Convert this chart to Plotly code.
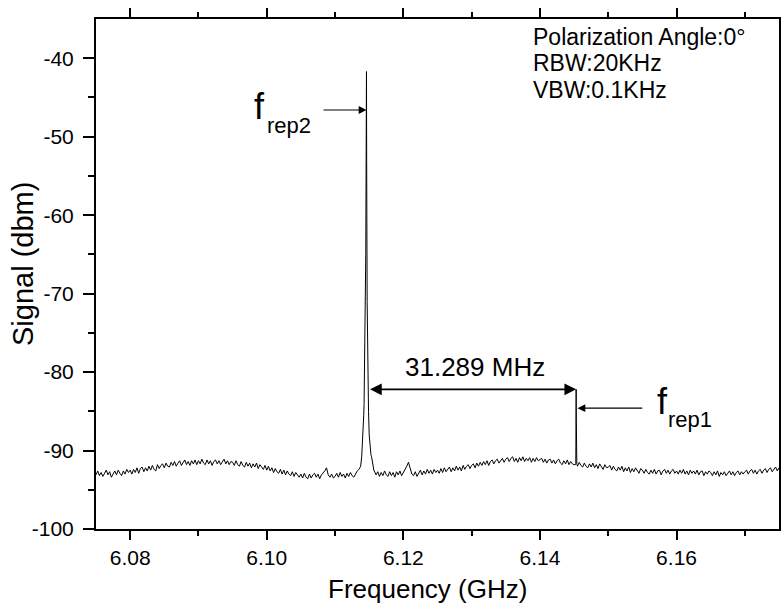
import plotly.graph_objects as go

# ---------------- data ----------------
freq_start = 6.075      # GHz, first sample of the sweep
freq_step = 0.00025     # GHz between samples

signal_dbm = [
    -93.1, -92.6, -93.2, -92.8, -93.3, -92.9, -92.5, -93.1, -92.7, -93.4, -92.9, -92.6, -93.1, -92.5, -92.9, -93.2, -92.6, -93.0, -92.4, -92.8,
    -92.5, -93.0, -92.4, -92.8, -92.2, -92.9, -92.3, -92.1, -92.7, -92.2, -92.6, -92.0, -92.5, -91.9, -92.4, -92.6, -91.8, -92.3, -91.9, -91.7,
    -92.2, -91.6, -92.0, -92.1, -91.5, -91.9, -91.4, -92.0, -91.6, -91.3, -91.9, -91.5, -91.2, -91.8, -91.4, -91.9, -91.3, -91.7, -91.2, -91.8,
    -91.3, -91.7, -91.1, -91.6, -91.8, -91.2, -91.7, -91.3, -91.9, -91.4, -91.2, -91.7, -91.3, -91.8, -91.4, -91.1, -91.7, -91.3, -91.8, -91.4,
    -91.5, -91.9, -91.3, -91.8, -92.0, -91.4, -91.9, -92.1, -91.5, -92.0, -91.6, -92.2, -91.7, -92.1, -91.6, -92.3, -91.8, -92.2, -92.4, -91.9,
    -92.5, -92.0, -92.6, -92.2, -92.8, -92.3, -92.7, -92.9, -92.4, -93.0, -92.5, -93.1, -92.6, -93.0, -93.2, -92.7, -93.3, -92.8, -93.1, -93.4,
    -93.0, -93.5, -92.9, -93.4, -93.6, -93.0, -93.5, -93.1, -92.9, -93.4, -93.0, -93.6, -93.1, -92.9, -92.6, -92.2, -93.1, -93.4, -93.0, -93.5,
    -93.3, -92.9, -93.4, -92.8, -93.3, -93.0, -93.5, -92.9, -93.3, -92.8, -93.2, -93.4, -92.9, -92.6, -92.4, -92.0, -89.5, -84.0, -65.0, -76.0,
    -88.0, -90.5, -91.9, -92.6, -93.1, -92.7, -93.3, -92.8, -93.2, -92.6, -93.1, -93.3, -92.7, -93.2, -92.8, -93.4, -92.7, -93.1, -92.6, -93.2,
    -92.8, -92.5, -92.0, -91.5, -92.2, -93.0, -93.2, -92.7, -93.3, -92.8, -92.5, -93.1, -92.6, -93.0, -92.4, -92.9, -92.5, -93.0, -92.4, -92.8,
    -92.5, -92.9, -92.3, -92.8, -92.2, -92.7, -92.4, -92.1, -92.7, -92.2, -92.6, -92.0, -92.5, -92.1, -92.6, -91.9, -92.4, -92.0, -91.8, -92.3,
    -91.9, -91.7, -92.2, -91.6, -92.0, -91.5, -91.9, -91.4, -91.8, -91.3, -91.9, -91.4, -91.2, -91.7, -91.3, -91.1, -91.6, -91.2, -91.0, -91.5,
    -91.1, -90.9, -91.4, -91.0, -90.8, -91.4, -91.0, -91.5, -90.9, -91.3, -90.8, -91.4, -91.0, -91.3, -90.9, -91.5, -91.0, -91.4, -90.9, -91.3,
    -91.2, -91.0, -91.5, -91.1, -91.6, -91.2, -91.1, -91.6, -91.2, -91.7, -91.3, -91.1, -91.6, -91.8, -91.3, -91.7, -91.2, -91.8, -91.4, -91.7,
    -91.8, -91.7, -92.0, -91.5, -91.9, -92.1, -91.6, -92.0, -92.2, -91.7, -92.1, -91.6, -92.2, -91.8, -92.3, -91.7, -92.1, -92.4, -91.8, -92.2,
    -92.1, -91.9, -92.5, -92.0, -92.4, -92.6, -92.1, -92.5, -92.0, -92.7, -92.2, -92.6, -92.1, -92.8, -92.3, -92.7, -92.2, -92.6, -92.9, -92.3,
    -92.5, -92.9, -92.4, -92.8, -93.0, -92.5, -92.9, -92.4, -93.0, -92.6, -92.5, -93.1, -92.6, -92.4, -92.9, -92.5, -93.0, -92.6, -92.4, -92.9,
    -92.6, -93.0, -92.5, -92.9, -92.4, -93.0, -92.6, -93.1, -92.5, -92.9, -92.6, -93.0, -92.5, -93.1, -92.7, -92.6, -93.2, -92.7, -93.0, -92.6,
    -92.8, -93.2, -92.7, -93.1, -92.6, -93.3, -92.8, -93.1, -92.7, -93.2, -92.8, -92.6, -93.1, -92.7, -93.2, -92.8, -92.6, -93.1, -92.7, -93.0,
    -92.7, -92.5, -93.0, -92.6, -92.4, -92.9, -92.5, -93.0, -92.6, -92.4, -92.9, -92.5, -92.3, -92.8, -92.4, -92.2, -92.7, -92.3, -92.1, -92.6,
    -92.2,
]

# finely sampled points of the strong line (f_rep2)
peak2_freq = [6.11375, 6.1139, 6.11405, 6.1142, 6.1143, 6.1144, 6.11452, 6.11457, 6.1146,
              6.11463, 6.1147, 6.1148, 6.1149, 6.1150, 6.1151, 6.1152, 6.11535, 6.1155, 6.1157]
peak2_dbm = [-92.0, -90.8, -88.8, -85.5, -81.0, -74.0, -60.0, -52.6, -41.7,
             -53.0, -71.0, -80.0, -85.0, -88.0, -89.6, -90.3, -90.8, -91.9, -92.6]

# finely sampled points of the weak line (f_rep1)
peak1_freq = [6.1452, 6.14528, 6.1453, 6.14532, 6.1454]
peak1_dbm = [-91.8, -85.0, -82.2, -86.0, -91.7]

x_ticks = [6.08, 6.10, 6.12, 6.14, 6.16]
y_ticks = [-100, -90, -80, -70, -60, -50, -40]

freq_rep2 = 6.1146
freq_rep1 = 6.1453
spacing_label = "31.289 MHz"
info_lines = ["Polarization Angle:0°", "RBW:20KHz", "VBW:0.1KHz"]
x_title = "Frequency (GHz)"
y_title = "Signal (dbm)"

# ---------------- build trace ----------------
base_freq = [round(freq_start + i * freq_step, 6) for i in range(len(signal_dbm))]
pts = list(zip(base_freq, signal_dbm)) + list(zip(peak2_freq, peak2_dbm)) + list(zip(peak1_freq, peak1_dbm))
pts.sort(key=lambda p: p[0])
xs = [p[0] for p in pts]
ys = [p[1] for p in pts]

FONT = "Arial, Liberation Sans, sans-serif"

fig = go.Figure()
fig.add_trace(go.Scatter(x=xs, y=ys, mode="lines",
                         line=dict(color="black", width=1), showlegend=False,
                         hoverinfo="skip"))

ann = []
# f_rep2 arrow
ann.append(dict(x=freq_rep2, y=-46.6, ax=6.1081, ay=-46.6, xref="x", yref="y",
                axref="x", ayref="y", text="", showarrow=True, arrowhead=2,
                arrowsize=1.3, arrowwidth=1.2, arrowcolor="black"))
# f_rep2 label
ann.append(dict(x=6.0979, y=-46.2, xref="x", yref="y", text="f", showarrow=False,
                xanchor="left", yanchor="middle", font=dict(family=FONT, size=36, color="black")))
ann.append(dict(x=6.0997, y=-48.6, xref="x", yref="y", text="rep2", showarrow=False,
                xanchor="left", yanchor="middle", font=dict(family=FONT, size=22, color="black")))
# spacing double arrow
ann.append(dict(x=freq_rep1, y=-82.2, ax=6.1149, ay=-82.2, xref="x", yref="y",
                axref="x", ayref="y", text="", showarrow=True, arrowhead=2, startarrowhead=2,
                arrowside="end+start", arrowsize=1.3, startarrowsize=1.3,
                arrowwidth=1.8, arrowcolor="black"))
ann.append(dict(x=6.1305, y=-79.3, xref="x", yref="y", text=spacing_label, showarrow=False,
                xanchor="center", yanchor="middle", font=dict(family=FONT, size=26, color="black")))
# f_rep1 arrow
ann.append(dict(x=6.1455, y=-84.6, ax=6.1552, ay=-84.6, xref="x", yref="y",
                axref="x", ayref="y", text="", showarrow=True, arrowhead=2,
                arrowsize=1.3, arrowwidth=1.2, arrowcolor="black"))
ann.append(dict(x=6.1569, y=-83.7, xref="x", yref="y", text="f", showarrow=False,
                xanchor="left", yanchor="middle", font=dict(family=FONT, size=36, color="black")))
ann.append(dict(x=6.1585, y=-86.0, xref="x", yref="y", text="rep1", showarrow=False,
                xanchor="left", yanchor="middle", font=dict(family=FONT, size=22, color="black")))
# info text
for yv, t in zip([-37.3, -40.65, -44.1], info_lines):
    ann.append(dict(x=6.1389, y=yv, xref="x", yref="y", text=t, showarrow=False,
                    xanchor="left", yanchor="middle", borderpad=0,
                    font=dict(family=FONT, size=23, color="black")))
# axis titles
ann.append(dict(x=0.486, y=-0.118, xref="paper", yref="paper", text=x_title, showarrow=False,
                xanchor="center", yanchor="middle", font=dict(family=FONT, size=26, color="black")))
ann.append(dict(x=-0.1066, y=0.52, xref="paper", yref="paper", text=y_title, showarrow=False,
                textangle=-90, xanchor="center", yanchor="middle",
                font=dict(family=FONT, size=29, color="black")))

fig.update_layout(
    width=783, height=604,
    margin=dict(l=96, r=2, t=19, b=75, pad=0),
    paper_bgcolor="white", plot_bgcolor="white",
    font=dict(family=FONT, color="black"),
    annotations=ann,
    xaxis=dict(range=[6.075, 6.175], tickvals=x_ticks, ticktext=[f"{v:.2f}" for v in x_ticks],
               ticks="outside", ticklen=9, tickwidth=1.5, tickcolor="black",
               showline=True, linewidth=2, linecolor="black", mirror="ticks",
               showgrid=False, zeroline=False,
               minor=dict(tickvals=[6.09, 6.11, 6.13, 6.15, 6.17], ticks="outside",
                          ticklen=5, tickwidth=1.5, tickcolor="black"),
               tickfont=dict(family=FONT, size=21, color="black")),
    yaxis=dict(range=[-100, -35], tickvals=y_ticks, ticktext=[f"{v:d}" for v in y_ticks],
               ticks="outside", ticklen=11, tickwidth=1.5, tickcolor="black",
               showline=True, linewidth=2, linecolor="black", mirror=True,
               showgrid=False, zeroline=False, ticklabelstandoff=5,
               minor=dict(tickvals=[-95, -85, -75, -65, -55, -45], ticks="outside",
                          ticklen=6, tickwidth=1.5, tickcolor="black"),
               tickfont=dict(family=FONT, size=21, color="black")),
)

fig.write_html("out.html")
